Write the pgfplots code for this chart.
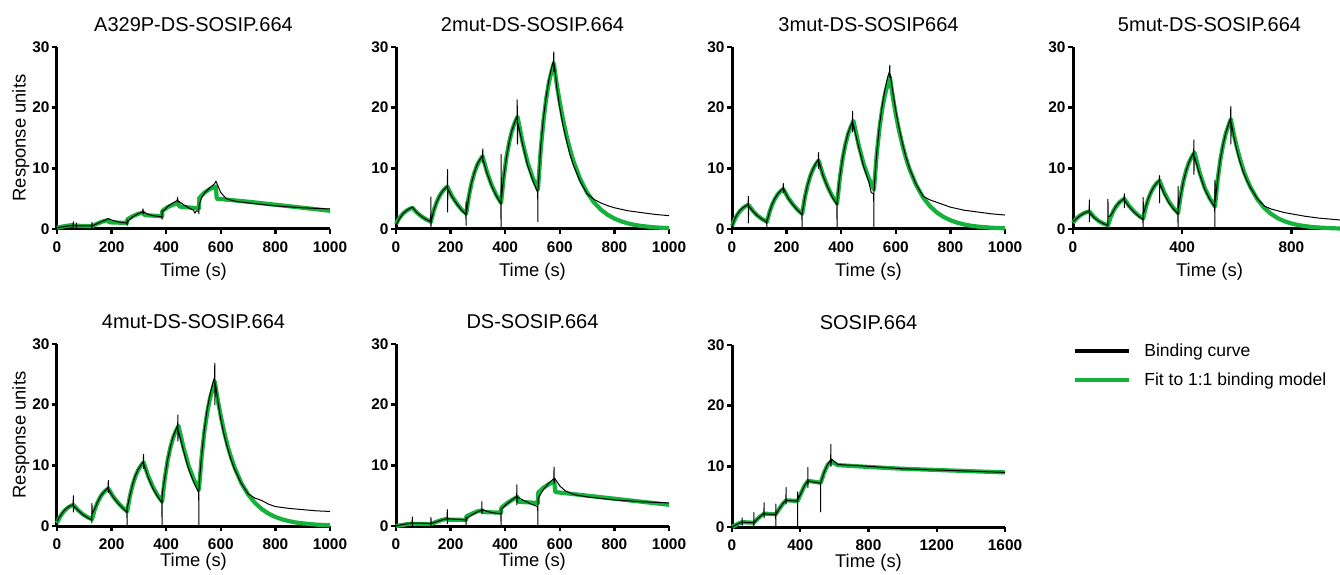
\documentclass[border=0pt]{standalone}
\usepackage{fontspec}
\setmainfont{Liberation Sans}
\usepackage{pgfplots}
\pgfplotsset{compat=1.18}
\definecolor{fitgreen}{RGB}{20,178,60}
\pgfplotsset{
  panel/.style={
    scale only axis, width=136.5pt, height=91pt,
    xmin=0, xmax=1000, ymin=0, ymax=30,
    axis x line=bottom, axis y line=left,
    axis line style={-, line width=1.5pt},
    ytick={0,10,20,30}, xtick={0,200,...,1000},
    tick align=outside, major tick length=2.6pt,
    tick style={line width=1.2pt, black},
    ticklabel style={font=\fontsize{7.7}{8}\selectfont\bfseries},
    yticklabel style={inner xsep=1pt},
    /pgf/number format/assume math mode=true,
    /pgf/number format/set thousands separator={},
    xlabel={Time (s)},
    label style={font=\fontsize{9.2}{10}\selectfont},
    ylabel style={at={(axis description cs:-0.132,0.5)}, anchor=center},
    xlabel style={yshift=1.5pt},
    title style={font=\fontsize{10}{12}\selectfont, yshift=-2pt},
    clip=false,
  },
  lowrow/.style={xlabel style={yshift=3.5pt}},
  blk/.style={black, line width=0.5pt, line join=round},
  grn/.style={fitgreen, line width=2.1pt, line join=round},
}
\begin{document}
\begin{tikzpicture}
% A329P-DS-SOSIP.664
\begin{axis}[panel, at={(28.5pt,172.5pt)}, anchor=south west,
  title={A329P-DS-SOSIP.664}, ylabel={Response units}]
\addplot[grn] table {
0 0.2
20 0.4
40 0.55
60 0.65
62 0.55
128 0.45
148 0.9
168 1.25
188 1.5
190 1.1
257 1.0
258 1.6
277 2.1
297 2.5
317 2.7
320 2.3
385 2.1
386 3.0
405 3.6
425 4.0
445 4.3
448 3.7
520 3.4
521 5.1
540 6.0
560 6.6
582 7.0
585 5.0
700 4.5
800 4.0
900 3.5
1000 3.0
};
\addplot[blk] table {
0 0.2
20 0.35
40 0.5
59 0.6
60 1.2
60 0.2
61 0.6
70 0.5
71 1.0
71 0.2
72 0.5
100 0.5
127 0.5
128 0
128 1.1
129 0.5
148 0.9
168 1.3
185 1.6
188 1.7
205 1.4
223 1.2
240 1.05
256 1.0
257 0.6
257 1.5
258 1.2
277 2.0
297 2.5
313 2.8
315 3.3
316 2.5
317 2.8
334 2.4
351 2.2
368 2.1
384 2.0
385 1.6
385 3.0
386 2.9
395 3.2
405 3.7
425 4.3
440 4.7
442 5.2
443 4.4
445 4.6
464 4.0
482 3.5
500 3.1
505 2.6
510 3.0
519 2.9
520 2.5
520 3.6
521 4.0
530 5.2
540 5.9
560 6.8
578 7.5
582 7.9
585 7.6
600 6.0
620 5.0
650 4.6
700 4.3
800 3.8
900 3.5
1000 3.3
};
\end{axis}
% 2mut-DS-SOSIP.664
\begin{axis}[panel, at={(198pt,172.5pt)}, anchor=south west,
  title={2mut-DS-SOSIP.664}]
\addplot[grn] table {
0 0.8
10 1.64
20 2.26
30 2.72
40 3.07
50 3.32
60 3.5
77 2.68
94 2.05
111 1.57
128 1.2
138 3.0
148 4.33
158 5.32
168 6.07
178 6.59
188 7.0
205 5.41
223 4.19
240 3.23
257 2.5
267 5.45
277 7.63
287 9.25
297 10.48
307 11.34
317 12.0
334 9.28
351 7.18
368 5.54
385 4.3
395 8.7
405 11.97
415 14.38
425 16.23
435 17.51
445 18.5
464 14.24
482 10.97
501 8.44
520 6.5
530 13.0
540 17.84
550 21.41
560 24.14
570 26.03
578 27.3
590 23.5
600 20.9
612 18.0
625 15.3
637 13.2
650 11.2
675 8.2
700 6.0
725 4.4
750 3.2
775 2.35
800 1.72
825 1.26
850 0.92
875 0.67
900 0.49
950 0.26
1000 0.14
};
\addplot[blk] table {
0 0.6
10 1.5
20 2.2
30 2.7
40 3.1
50 3.35
60 3.6
77 2.7
94 2.05
111 1.55
127 1.2
128 5.3
128 0.3
129 1.3
138 3.0
148 4.3
158 5.3
168 6.1
178 6.6
188 7.0
189 9.8
189 2.8
190 6.6
205 5.3
223 4.1
240 3.1
256 2.4
257 0.6
257 4.5
258 2.7
267 5.5
277 7.7
287 9.3
297 10.6
307 11.4
317 12.1
318 13.2
318 11.0
319 11.4
334 9.1
351 7.0
368 5.4
384 4.2
385 0
385 12.3
386 5.0
395 8.7
405 12.0
415 14.4
425 16.3
435 17.6
444 18.6
444 21.3
445 14.0
446 17.5
464 13.9
482 10.5
501 8.0
519 6.0
520 1.2
520 6.5
521 7.0
530 13.5
540 18.2
550 21.8
560 24.6
570 26.6
577 27.8
578 29.2
578 26.0
580 27.0
590 23.0
600 20.0
612 17.0
625 14.5
637 12.3
650 10.5
675 7.8
700 5.8
725 4.9
750 4.3
775 3.85
800 3.5
850 3.0
900 2.7
950 2.4
1000 2.2
};
\end{axis}
% 3mut-DS-SOSIP664
\begin{axis}[panel, at={(366pt,172.5pt)}, anchor=south west,
  title={3mut-DS-SOSIP664}]
\addplot[grn] table {
0 0.5
10 1.59
20 2.39
30 2.99
40 3.44
50 3.76
60 4.0
77 2.96
94 2.19
111 1.62
128 1.2
138 2.87
148 4.12
158 5.03
168 5.74
178 6.22
188 6.6
205 5.18
223 4.06
240 3.19
257 2.5
267 5.23
277 7.25
287 8.75
297 9.89
307 10.68
317 11.3
334 8.83
351 6.89
368 5.38
385 4.2
395 8.42
405 11.54
415 13.86
425 15.62
435 16.85
445 17.8
464 13.83
482 10.75
501 8.37
520 6.5
530 12.27
540 16.54
550 19.71
560 22.12
570 23.8
578 25.1
590 21.5
600 18.9
612 16.2
625 13.7
637 11.7
650 9.9
675 7.2
700 5.2
725 3.77
750 2.73
775 1.98
800 1.44
825 1.04
850 0.75
875 0.54
900 0.40
950 0.21
1000 0.11
};
\addplot[blk] table {
0 0
3 0.8
10 1.7
20 2.5
30 3.1
40 3.5
50 3.8
59 4.0
60 5.4
60 1.0
61 3.8
77 2.9
94 2.15
111 1.6
127 1.1
128 0
128 1.6
129 1.4
138 2.9
148 4.2
158 5.1
168 5.8
178 6.3
187 6.8
188 7.5
188 6.0
189 6.6
205 5.1
223 4.0
240 3.1
256 2.4
257 0
257 2.6
267 5.3
277 7.3
287 8.8
297 9.9
307 10.8
316 11.4
317 12.6
317 10.0
318 11.2
334 8.7
351 6.8
368 5.2
384 4.0
385 0
385 4.5
395 8.6
405 11.7
415 14.0
425 15.8
435 17.0
441 17.7
442 19.4
442 16.0
443 17.5
464 13.5
482 10.3
501 7.8
510 6.0
519 5.8
520 0
520 6.2
530 12.5
540 17.0
550 20.3
560 23.0
570 25.0
577 26.0
578 27.0
578 25.0
580 25.5
590 22.3
600 19.5
612 16.6
625 14.0
637 11.9
650 10.0
675 7.3
700 5.4
725 4.8
750 4.4
775 4.0
800 3.6
850 3.1
900 2.8
950 2.5
1000 2.3
};
\end{axis}
% 5mut-DS-SOSIP.664
\begin{axis}[panel, at={(536.5pt,172.5pt)}, anchor=south west,
  title={5mut-DS-SOSIP.664}, xtick={0,400,800}]
\addplot[grn] table {
0 1.0
10 1.59
20 2.03
30 2.35
40 2.6
50 2.77
60 2.9
77 1.96
94 1.32
111 0.89
128 0.6
138 1.96
148 2.98
158 3.72
168 4.30
178 4.69
188 5.0
205 3.82
223 2.92
240 2.23
257 1.7
267 3.65
277 5.10
287 6.17
297 6.99
307 7.56
317 8.0
334 6.04
351 4.56
368 3.45
385 2.6
395 5.7
405 8.0
415 9.7
425 11.0
435 11.9
445 12.6
464 9.27
482 6.83
501 5.03
520 3.7
530 8.16
540 11.48
550 13.92
560 15.8
570 17.09
578 18.1
590 15.4
600 13.5
612 11.5
625 9.6
637 8.2
650 6.9
675 4.9
700 3.5
725 2.5
750 1.78
775 1.27
800 0.91
825 0.65
850 0.47
875 0.33
900 0.24
950 0.12
1000 0.06
};
\addplot[blk] table {
0 1.2
10 1.6
20 2.0
30 2.3
40 2.6
50 2.8
59 2.9
60 4.8
60 1.2
61 2.7
77 1.9
94 1.3
111 0.9
127 0.6
128 0.5
128 4.9
129 2.0
138 2.2
148 3.0
158 3.8
168 4.3
178 4.7
187 5.0
188 5.8
188 3.5
189 4.7
205 3.7
223 2.8
240 2.1
256 1.6
257 0
257 5.2
258 2.5
267 3.8
277 5.2
287 6.2
297 7.0
307 7.6
316 8.0
317 8.8
317 4.3
318 7.5
334 5.8
351 4.3
368 3.3
384 2.5
385 0
385 7.0
386 3.5
395 5.7
405 8.0
415 9.7
425 11.0
435 12.0
442 12.6
443 14.7
443 9.0
444 12.0
464 9.0
482 6.6
501 4.9
519 3.6
520 0
520 8.0
521 4.5
530 8.3
540 11.6
550 14.0
560 15.9
570 17.3
577 18.2
578 20.2
578 14.0
580 17.5
590 15.0
600 13.0
612 11.0
625 9.2
637 8.0
650 6.8
675 5.0
700 3.8
725 3.3
750 3.0
775 2.7
800 2.5
850 2.1
900 1.8
950 1.6
1000 1.4
};
\end{axis}
% 4mut-DS-SOSIP.664
\begin{axis}[panel, lowrow, at={(28.5pt,24pt)}, anchor=south west,
  title={4mut-DS-SOSIP.664}, ylabel={Response units}]
\addplot[grn] table {
0 0.5
10 1.43
20 2.12
30 2.63
40 3.02
50 3.29
60 3.5
77 2.62
94 1.96
111 1.47
128 1.1
138 2.68
148 3.85
158 4.72
168 5.38
178 5.84
188 6.2
205 4.89
223 3.86
240 3.04
257 2.4
267 4.91
277 6.77
287 8.15
297 9.2
307 9.93
317 10.5
334 8.25
351 6.48
368 5.09
385 4.0
395 7.88
405 10.75
415 12.88
425 14.5
435 15.63
445 16.5
464 12.82
482 9.95
501 7.72
520 6.0
530 11.52
540 15.61
550 18.64
560 20.95
570 22.55
578 23.8
590 20.5
600 18.1
612 15.6
625 13.2
637 11.4
650 9.7
675 7.1
700 5.2
725 3.81
750 2.79
775 2.04
800 1.49
825 1.09
850 0.80
875 0.58
900 0.43
950 0.23
1000 0.12
};
\addplot[blk] table {
0 0.8
10 1.5
20 2.2
30 2.7
40 3.1
50 3.35
59 3.5
60 5.0
60 2.3
61 3.3
77 2.6
94 1.9
111 1.4
127 1.0
128 0.5
128 3.7
129 2.0
138 2.8
148 3.9
158 4.8
168 5.4
178 5.9
187 6.3
188 7.5
188 5.5
189 6.0
205 4.8
223 3.8
240 3.0
256 2.3
257 0
257 3.0
258 3.2
267 5.0
277 6.9
287 8.3
297 9.3
307 10.0
316 10.6
317 11.8
317 9.5
318 10.2
334 8.0
351 6.2
368 4.9
384 3.9
385 0
385 4.5
386 5.5
395 8.0
405 10.9
415 13.0
425 14.7
435 15.8
442 16.6
443 18.3
443 14.0
444 15.8
464 12.3
482 9.4
501 7.2
519 5.5
520 0
520 6.0
521 7.0
530 11.8
540 16.0
550 19.2
560 21.6
570 23.4
577 24.5
578 26.8
578 20.0
580 23.5
590 20.3
600 17.6
612 15.0
625 12.8
637 11.0
650 9.4
675 7.0
700 5.3
725 4.6
750 4.2
775 3.6
800 3.2
850 2.9
900 2.7
950 2.5
1000 2.4
};
\end{axis}
% DS-SOSIP.664
\begin{axis}[panel, lowrow, at={(198pt,24pt)}, anchor=south west,
  title={DS-SOSIP.664}]
\addplot[grn] table {
0 0
20 0.15
40 0.3
60 0.4
62 0.35
128 0.3
148 0.7
168 1.0
188 1.2
190 1.05
257 1.0
258 1.6
277 2.0
297 2.4
317 2.6
320 2.3
385 2.2
386 3.0
405 3.7
425 4.3
445 4.8
448 4.0
520 3.8
521 5.5
540 6.3
560 6.9
580 7.3
583 5.6
700 5.0
800 4.5
900 4.0
1000 3.5
};
\addplot[blk] table {
0 0
20 0.2
40 0.35
59 0.5
60 1.5
60 0
61 0.5
100 0.45
127 0.4
128 0
128 1.4
129 0.4
148 0.7
168 1.0
187 1.2
188 2.7
188 0.4
189 1.2
205 1.15
223 1.1
240 1.05
256 1.0
257 0
257 1.5
258 1.2
277 1.8
297 2.3
314 2.6
315 4.0
315 2.0
316 2.7
334 2.4
351 2.2
368 2.1
384 2.0
385 0
385 2.8
386 2.8
405 3.6
425 4.3
442 4.9
443 6.8
443 3.5
444 4.8
464 4.3
482 3.9
501 3.5
519 3.2
520 0
520 3.7
521 4.6
540 6.0
560 7.1
578 7.8
579 9.7
579 7.0
581 7.9
600 6.6
620 5.8
650 5.2
700 4.8
800 4.3
900 4.0
1000 3.8
};
\end{axis}
% SOSIP.664
\begin{axis}[panel, lowrow, at={(366pt,23.5pt)}, anchor=south west,
  title={SOSIP.664}, xmax=1600, xtick={0,400,...,1600},
  reverse legend=true,
  legend style={at={(1.249,0.887)}, anchor=west, draw=none, fill=none,
    font=\fontsize{8.75}{10}\selectfont, inner sep=0pt, row sep=5.5pt,
    nodes={inner sep=0pt, text height=7pt, text depth=2pt},
    /tikz/every odd column/.append style={column sep=6.5pt}},
  legend cell align=left,
  legend image code/.code={\draw[#1, line width=2pt] (0pt,0pt) -- (27pt,0pt);}]
\addplot[grn] table {
0 0
20 0.3
40 0.6
60 0.8
128 0.7
148 1.3
168 1.8
188 2.2
257 2.1
277 3.0
297 3.8
317 4.4
385 4.3
405 5.6
425 6.8
445 7.6
520 7.3
540 9.0
560 10.2
580 10.8
620 10.2
800 9.9
1000 9.6
1200 9.4
1400 9.2
1600 9.0
};
\addlegendentry{Fit to 1:1 binding model}
\addplot[blk] table {
0 0
20 0.3
40 0.6
59 0.8
60 1.5
60 0.3
61 0.8
100 0.75
127 0.7
128 0
128 2.4
129 0.7
148 1.3
168 1.8
187 2.2
188 4.0
188 1.5
189 2.2
220 2.1
256 2.1
257 0
257 3.8
258 2.1
277 3.0
297 3.8
316 4.4
317 6.5
317 3.8
318 4.4
350 4.3
384 4.3
385 0
385 5.8
386 4.5
405 5.6
425 6.8
444 7.6
445 9.8
445 6.5
446 7.6
480 7.4
519 7.2
520 2.5
520 7.3
521 7.4
540 9.0
560 10.3
578 11.0
580 13.6
580 10.0
583 11.2
620 10.3
800 10.0
1000 9.6
1200 9.4
1400 9.2
1600 9.0
};
\addlegendentry{Binding curve}
\end{axis}
\pgfresetboundingbox
\path (0pt,0pt) rectangle (670pt,287pt);
\end{tikzpicture}
\end{document}
